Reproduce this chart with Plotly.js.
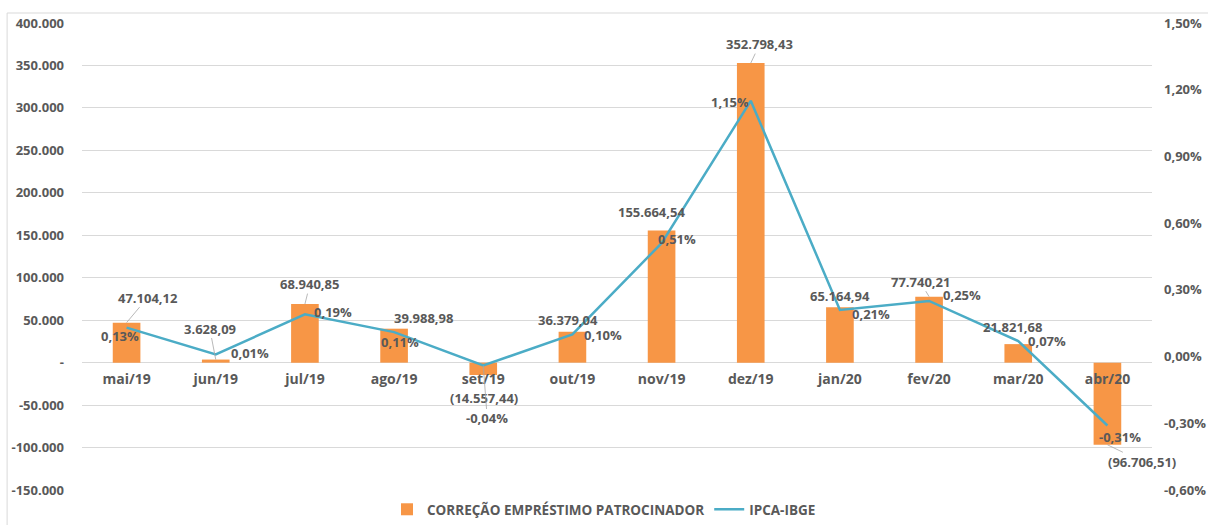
<!DOCTYPE html>
<html><head><meta charset="utf-8">
<script src="https://cdn.plot.ly/plotly-3.0.1.min.js"></script>
<style>html,body{margin:0;padding:0;background:#fff;}#chart{width:1208px;height:525px;}</style>
</head><body><div id="chart"></div>
<script>
const categories = ['mai/19','jun/19','jul/19','ago/19','set/19','out/19','nov/19','dez/19','jan/20','fev/20','mar/20','abr/20'];
const correcao = [47104.12, 3628.09, 68940.85, 39988.98, -14557.44, 36379.04, 155664.54, 352798.43, 65164.94, 77740.21, 21821.68, -96706.51];
const ipca = [0.13, 0.01, 0.19, 0.11, -0.04, 0.10, 0.51, 1.15, 0.21, 0.25, 0.07, -0.31];
const leftTicks = [400000, 350000, 300000, 250000, 200000, 150000, 100000, 50000, 0, -50000, -100000, -150000];
const rightTicks = [1.5, 1.2, 0.9, 0.6, 0.3, 0, -0.3, -0.6];

// label offsets (pixels) and leader-line flags — layout only
const barOff = [[21,25],[-6,31],[5,20],[29,11],[1,-23],[-4,12],[-10,18],[9,19],[0,11],[-9,15],[-6,17],[35,-17]];
const barLeader = [true,true,true,false,false,false,false,true,false,true,false,true];
const lineOff = [[-7,-8],[34,1],[28,2],[6,-10],[4,-53],[31,-1],[15,4],[-21,-1],[31,-4],[33,6],[29,0],[13,-11]];
const lineLeader = [false,false,false,false,true,false,false,false,false,false,false,false];

function fmtBR(v, dec) {
  const s = Math.abs(v).toFixed(dec).split('.');
  const int = s[0].replace(/\B(?=(\d{3})+(?!\d))/g, '.');
  return dec > 0 ? int + ',' + s[1] : int;
}
const gray = '#595959';
const FAM = 'Open Sans, sans-serif';
const font = {family: FAM, size: 13, color: gray, weight: 'bold'};

function label(x, y, yref, text, off, leader) {
  if (leader) {
    return {x: x, y: y, xref: 'x', yref: yref, text: text, font: font,
      showarrow: true, arrowhead: 0, arrowwidth: 0.8, arrowcolor: '#A6A6A6',
      axref: 'pixel', ayref: 'pixel', ax: off[0], ay: -off[1], standoff: 0, borderpad: 0};
  }
  return {x: x, y: y, xref: 'x', yref: yref, showarrow: false, text: text,
    xshift: off[0], yshift: off[1], font: font};
}

const annotations = [];
categories.forEach((c, i) => {
  const v = correcao[i];
  annotations.push(label(c, v, 'y', v < 0 ? '(' + fmtBR(v, 2) + ')' : fmtBR(v, 2), barOff[i], barLeader[i]));
  annotations.push(label(c, ipca[i], 'y2',
    (ipca[i] < 0 ? '-' : '') + Math.abs(ipca[i]).toFixed(2).replace('.', ',') + '%', lineOff[i], lineLeader[i]));
});

const data = [
  {type: 'bar', name: 'CORREÇÃO EMPRÉSTIMO PATROCINADOR', x: categories, y: correcao,
   marker: {color: '#F79646'}, yaxis: 'y', xaxis: 'x', hoverinfo: 'none'},
  {type: 'scatter', mode: 'lines', name: 'IPCA-IBGE', x: categories, y: ipca,
   line: {color: '#4BACC6', width: 2.5}, yaxis: 'y2', xaxis: 'x', hoverinfo: 'none'}
];

const layout = {
  width: 1208, height: 525,
  margin: {l: 82, r: 56, t: 23, b: 35, autoexpand: false},
  paper_bgcolor: '#fff', plot_bgcolor: '#fff',
  bargap: 0.69,
  showlegend: true,
  legend: {orientation: 'h', x: 0.5, xanchor: 'center', xref: 'container', y: 0.0, yanchor: 'bottom', yref: 'container',
    font: {family: FAM, size: 13.5, color: gray, weight: 'bold'},
    itemwidth: 30, traceorder: 'normal'},
  xaxis: {type: 'category', range: [-0.5, 11.5], autorange: false, anchor: 'free', position: 0.274,
    showline: false, showgrid: false, automargin: false,
    ticks: '', tickfont: {family: FAM, size: 14, color: gray, weight: 'bold'},
    ticklabelstandoff: 7, fixedrange: true},
  yaxis: {range: [-150000, 400000], autorange: false, tickvals: leftTicks, automargin: false,
    ticktext: leftTicks.map(v => v === 0 ? '-' : (v < 0 ? '-' : '') + fmtBR(v, 0)),
    showgrid: true, gridcolor: '#D9D9D9', gridwidth: 1, zeroline: true, zerolinecolor: '#D9D9D9', zerolinewidth: 1,
    showline: false, ticks: '', ticklabelstandoff: 17,
    tickfont: {family: FAM, size: 13, color: gray, weight: 'bold'}},
  yaxis2: {overlaying: 'y', side: 'right', range: [-0.6, 1.5], autorange: false, tickvals: rightTicks, automargin: false,
    ticktext: rightTicks.map(v => (v < 0 ? '-' : '') + Math.abs(v).toFixed(2).replace('.', ',') + '%'),
    showgrid: false, zeroline: false, showline: false, ticks: '', ticklabelstandoff: 11,
    tickfont: {family: FAM, size: 13, color: gray, weight: 'bold'}},
  annotations: annotations,
  shapes: [{type: 'rect', xref: 'paper', yref: 'paper', x0: -0.070, x1: 1.07, y0: -0.2, y1: 1.0214,
    line: {color: '#D9D9D9', width: 1}, fillcolor: 'rgba(0,0,0,0)', layer: 'below'}]
};

Plotly.newPlot('chart', data, layout, {displayModeBar: false, staticPlot: true});
</script></body></html>
